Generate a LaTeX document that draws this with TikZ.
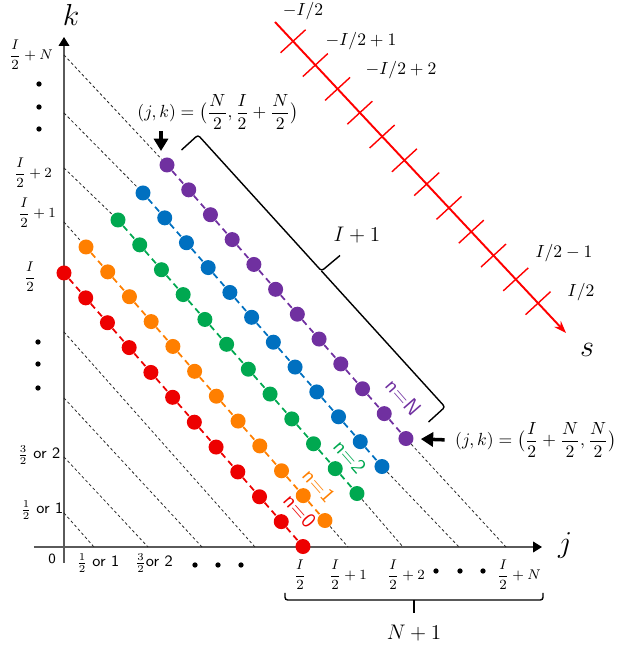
\documentclass[tikz,border=0pt]{standalone}
\usepackage{amsmath}
\usepackage{tikz}
\usetikzlibrary{arrows.meta, positioning, calc}
\definecolor{dred}{RGB}{237, 0, 0}
\definecolor{dorange}{RGB}{255, 127, 0}
\definecolor{dgreen}{RGB}{0, 168, 80}
\definecolor{dblue}{RGB}{0, 112, 192}
\definecolor{dpurple}{RGB}{112, 48, 160}
\definecolor{axisgray}{RGB}{90, 90, 90}
\tikzset{
    axis/.style={draw=axisgray, line width=0.8pt, -{Triangle[length=5pt, width=6pt, color=black]}},
    dot/.style={circle, inner sep=0pt, minimum size=0.3cm},
    link/.style={dash pattern=on 3.5pt off 2.5pt, line width=1pt},
    guide/.style={dash pattern=on 1.6pt off 1.4pt, line width=0.45pt, black!85},
    klab/.style={font=\footnotesize, inner sep=1pt},
    orlab/.style={font=\footnotesize, inner sep=1pt},
    bigdot/.style={circle, fill=black, inner sep=0pt, minimum size=3pt},
    saxis/.style={draw=red, line width=1.1pt},
    stick/.style={draw=red, line width=0.8pt},
    bracket/.style={draw=black, line width=0.8pt, rounded corners=1.5pt},
    pointer/.style={line width=2pt, -{Triangle[length=7pt, width=8pt]}},
    nlab/.style={font=\large\sffamily, rotate=-48.8, inner sep=0pt}
}
\begin{document}
\begin{tikzpicture}
\useasboundingbox (-1.28,-2.06) rectangle (11.1,10.94);

% axes
\draw[axis] (-0.6,0) -- (9.56,0);
\draw[axis] (0,-0.32) -- (0,10.2);
\node[font=\LARGE] (klabel) at (0.14,10.64) {$k$};
\node[font=\LARGE] (jlabel) at (10.02,0.02) {$j$};

% guide lines
\foreach \jx/\ky in {0.6/0.68, 1.68/1.8, 2.76/2.98, 3.82/4.3}
    \draw[guide] (0,\ky) -- (\jx,0);

% dot rows n = 0,1,2,...,N
\foreach \c/\sx/\sy in {dred/0/5.48, dorange/0.44/6.0, dgreen/1.08/6.54, dblue/1.58/7.08, dpurple/2.06/7.64} {
    \foreach \i in {0,...,11}
        \node[dot, fill=\c] (\c-\i) at ({\sx+\i*0.4345},{\sy-\i*0.4973}) {};
    \foreach \i [count=\j from 1] in {0,...,10}
        \draw[link, \c] (\c-\i) -- (\c-\j);
}
\foreach \c/\ky/\jx in {dorange/6.5/5.68, dgreen/7.58/6.78, dblue/8.68/7.9, dpurple/9.84/8.84} {
    \draw[guide] (0,\ky) -- (\c-0);
    \draw[guide] (\c-11) -- (\jx,0);
}

\node[nlab, text=dred] (nzero) at (4.72,0.72) {n=0};
\node[nlab, text=dorange] (none) at (5.1,1.22) {n=1};
\node[nlab, text=dgreen] (ntwo) at (5.72,1.8) {n=2};
\node[nlab, text=dpurple] (nbig) at (6.8,3.0) {n=N};

% k axis labels
\node[klab] (ktop) at (-0.66,9.84) {$\dfrac{I}{2}+N$};
\foreach \y [count=\n] in {9.26, 8.8, 8.36}
    \node[bigdot] (kdotup\n) at (-0.5,\y) {};
\node[klab] (kplus2) at (-0.62,7.48) {$\dfrac{I}{2}+2$};
\node[klab] (kplus1) at (-0.54,6.68) {$\dfrac{I}{2}+1$};
\node[klab] (khalf) at (-0.68,5.4) {$\dfrac{I}{2}$};
\foreach \y [count=\n] in {4.1, 3.66, 3.18}
    \node[bigdot] (kdotlow\n) at (-0.52,\y) {};
\node[orlab] (kthree) at (-0.5,1.84) {$\frac{3}{2}$ \small\textsf{or 2}};
\node[orlab] (kone) at (-0.44,0.74) {$\frac{1}{2}$ \small\textsf{or 1}};
\node[orlab] (zero) at (-0.24,-0.24) {\textsf{0}};

% j axis labels
\node[orlab] (jone) at (0.68,-0.32) {$\frac{1}{2}$ \small\textsf{or 1}};
\node[orlab] (jthree) at (1.8,-0.32) {$\frac{3}{2}$\small\textsf{or 2}};
\foreach \x [count=\n] in {2.62, 3.08, 3.54}
    \node[bigdot] (jdotlow\n) at (\x,-0.36) {};
\node[klab] (jhalf) at (4.72,-0.56) {$\dfrac{I}{2}$};
\node[klab] (jplus1) at (5.68,-0.56) {$\dfrac{I}{2}+1$};
\node[klab] (jplus2) at (6.84,-0.56) {$\dfrac{I}{2}+2$};
\foreach \x [count=\n] in {7.44, 7.92, 8.38}
    \node[bigdot] (jdotup\n) at (\x,-0.48) {};
\node[klab] (jtop) at (9.1,-0.56) {$\dfrac{I}{2}+N$};

% N+1 bracket
\draw[bracket] (4.42,-0.92) |- (9.58,-1.06) -- (9.58,-0.92);
\draw[bracket] (7.0,-1.06) -- (7.0,-1.32);
\node[font=\large] (nplus) at (7.0,-1.72) {$N+1$};

% I+1 bracket
\coordinate (brtop) at (2.68,8.24);
\coordinate (brbot) at (7.62,2.80);
\coordinate (brmid) at ($(brtop)!0.5!(brbot)$);
\coordinate (brtip) at ($(brmid)+(0.37,0.31)$);
\draw[bracket] ($(brtop)+(-0.33,-0.30)$) -- (brtop) -- (brmid) -- (brtip);
\draw[bracket] (brmid) -- (brbot) -- ($(brbot)+(-0.33,-0.30)$);
\node[font=\large] (iplus) at (5.86,6.24) {$I+1$};

% end points
\node (toplab) at (3.08,8.7) {$(j,k)=\bigl(\dfrac{N}{2},\dfrac{I}{2}+\dfrac{N}{2}\bigr)$};
\coordinate (toptip) at (1.94,7.92);
\draw[pointer] ([yshift=3pt]toplab.south -| toptip) -- (toptip);
\node[anchor=west] (rightlab) at (7.7,2.14) {$(j,k)=\bigl(\dfrac{I}{2}+\dfrac{N}{2},\dfrac{N}{2}\bigr)$};
\draw[pointer, shorten <=2.5pt, shorten >=4pt] (rightlab.west) -- (dpurple-11);

% s axis
\coordinate (sstart) at (4.22,10.5);
\coordinate (send) at (10.04,4.28);
\draw[saxis, -{Stealth[length=7pt, width=5pt]}] (sstart) -- (send);
\coordinate (s0) at ($(sstart)!0.062!(send)$);
\coordinate (s11) at ($(sstart)!0.904!(send)$);
\foreach \t in {0,...,11}
    \draw[stick] ($(s0)!\t/11!(s11)$) ++(-0.25,-0.23) -- ++(0.5,0.46);
\node (sminus) at (4.78,10.72) {$-I/2$};
\node (sminus1) at (5.94,10.12) {$-I/2+1$};
\node (sminus2) at (6.74,9.54) {$-I/2+2$};
\node (splus1) at (10.0,5.88) {$I/2-1$};
\node (splus) at (10.34,5.1) {$I/2$};
\node[font=\LARGE] (slabel) at (10.46,3.94) {$s$};
\end{tikzpicture}
\end{document}
